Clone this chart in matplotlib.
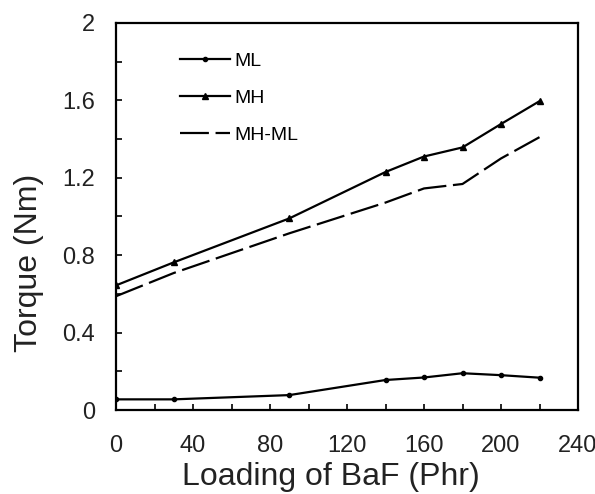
import matplotlib
matplotlib.use("Agg")
import matplotlib.pyplot as plt
from matplotlib.ticker import MultipleLocator

plt.rcParams['font.family'] = ['Liberation Sans', 'DejaVu Sans']

loading = [0, 30, 90, 140, 160, 180, 200, 220]
ml = [0.055, 0.055, 0.077, 0.155, 0.168, 0.19, 0.18, 0.167]
mh = [0.644, 0.763, 0.99, 1.23, 1.31, 1.357, 1.478, 1.596]
mh_ml = [0.588, 0.708, 0.913, 1.072, 1.145, 1.168, 1.30, 1.41]

fig = plt.figure(figsize=(5.95, 4.94), dpi=100)
ax = fig.add_axes([116 / 595, 84 / 494, 462 / 595, 387 / 494])

ax.plot(loading, ml, color='black', lw=1.6, marker='o', ms=3, label='ML')
ax.plot(loading, mh, color='black', lw=1.6, marker='^', ms=4, label='MH')
ax.plot(loading, mh_ml, color='black', lw=1.6, dashes=(13, 3), label='MH-ML')

ax.set_xlim(0, 240)
ax.set_ylim(0, 2)
ax.xaxis.set_major_locator(MultipleLocator(40))
ax.xaxis.set_minor_locator(MultipleLocator(20))
ax.yaxis.set_major_locator(MultipleLocator(0.4))
ax.yaxis.set_minor_locator(MultipleLocator(0.2))
ax.yaxis.set_major_formatter(matplotlib.ticker.FuncFormatter(lambda v, p: f"{v:g}"))
ax.tick_params(which='both', direction='in', length=4, width=1.2, labelsize=17,
               labelcolor='#222222')
ax.tick_params(axis='x', which='both', pad=18)
ax.tick_params(axis='y', which='both', pad=15)
for s in ax.spines.values():
    s.set_linewidth(1.6)

ax.set_xlabel('Loading of BaF (Phr)', fontsize=23, color='#222222')
ax.set_ylabel('Torque (Nm)', fontsize=23, color='#222222')
ax.xaxis.set_label_coords((331 - 116) / 462, (410 - 462) / 387)
ax.yaxis.set_label_coords((44 - 116) / 462, (410 - 263) / 387)

ax.legend(loc='upper left', bbox_to_anchor=(0.138, 0.925), frameon=False,
          fontsize=14, handlelength=2.6, handletextpad=0.2, labelspacing=1.0,
          borderaxespad=0, borderpad=0)

fig.savefig('out.png', dpi=100)
